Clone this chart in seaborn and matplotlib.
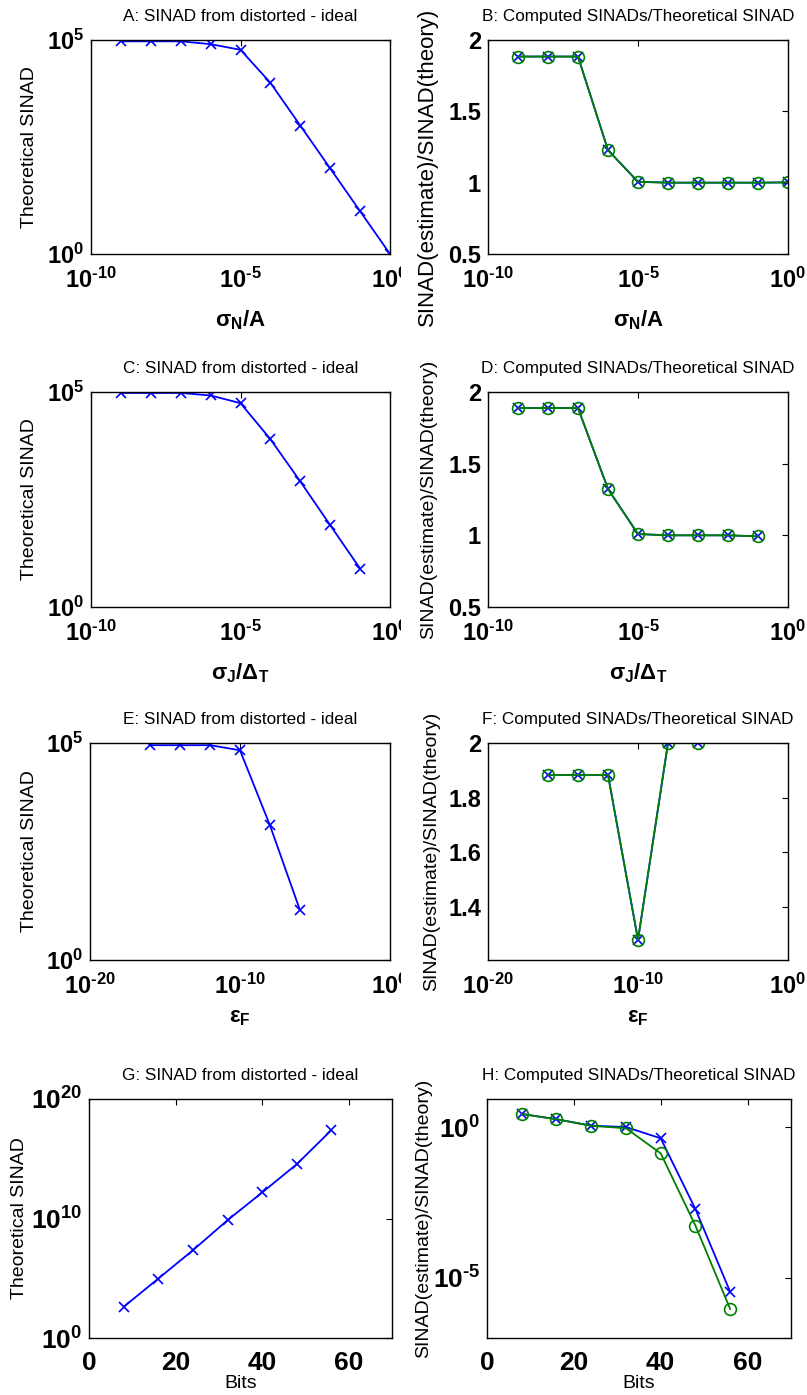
import numpy as np
import pandas as pd
import matplotlib
matplotlib.use("Agg")
import matplotlib.pyplot as plt
from matplotlib.patches import Rectangle
import seaborn as sns

# ---------------- data ----------------
# Panel A / B : noise
noise_x = [1e-9, 1e-8, 1e-7, 1e-6, 1e-5, 1e-4, 1e-3, 1e-2, 1e-1, 1e0]
noise_sinad = [9.3e4, 9.3e4, 9.3e4, 8.0e4, 5.9e4, 1.0e4, 1.0e3, 1.0e2, 1.0e1, 1.0e0]
noise_ratio_a = [1.884, 1.884, 1.884, 1.228, 1.006, 1.0, 1.0, 1.0, 1.0, 1.002]
noise_ratio_b = [1.884, 1.884, 1.884, 1.228, 1.006, 1.0, 1.0, 1.0, 1.0, 1.002]

# Panel C / D : jitter
jitter_x = [1e-9, 1e-8, 1e-7, 1e-6, 1e-5, 1e-4, 1e-3, 1e-2, 1e-1]
jitter_sinad = [9.5e4, 9.5e4, 9.5e4, 8.3e4, 5.5e4, 8.0e3, 8.3e2, 8.0e1, 7.8e0]
jitter_ratio_a = [1.888, 1.888, 1.888, 1.323, 1.009, 1.0, 1.0, 1.0, 0.993]
jitter_ratio_b = [1.888, 1.888, 1.888, 1.323, 1.009, 1.0, 1.0, 1.0, 0.993]

# Panel E / F : frequency error
freq_x = [1e-16, 1e-14, 1e-12, 1e-10, 1e-8, 1e-6]
freq_sinad = [8.9e4, 8.9e4, 8.9e4, 6.8e4, 1.26e3, 1.4e1]
freq_ratio_a = [1.883, 1.883, 1.883, 1.278, 2.0, 2.0]
freq_ratio_b = [1.883, 1.883, 1.883, 1.278, 2.0, 2.0]

# Panel G / H : bits
bits = [8, 16, 24, 32, 40, 48, 56]
bits_sinad = [4.0e2, 9.3e4, 2.2e7, 7.2e9, 1.5e12, 3.5e14, 2.5e17]
bits_ratio_a = [2.78, 1.85, 1.13, 1.02, 0.43, 1.9e-3, 3.4e-6]
bits_ratio_b = [2.75, 1.86, 1.12, 0.93, 0.136, 5.4e-4, 9.1e-7]

titles = ["A: SINAD from distorted - ideal", "B: Computed SINADs/Theoretical SINAD",
          "C: SINAD from distorted - ideal", "D: Computed SINADs/Theoretical SINAD",
          "E: SINAD from distorted - ideal", "F: Computed SINADs/Theoretical SINAD",
          "G: SINAD from distorted - ideal", "H: Computed SINADs/Theoretical SINAD"]
ylab_left = "Theoretical SINAD"
ylab_right = "SINAD(estimate)/SINAD(theory)"
xlabels = [r"$\mathbf{σ_N/A}$", r"$\mathbf{σ_J/Δ_T}$", r"$\mathbf{ε_F}$", "Bits"]

log_xticks_ab = [1e-10, 1e-5, 1e0]
log_xticks_ef = [1e-20, 1e-10, 1e0]
sinad_yticks = [1e0, 1e5]
ratio_yticks = [0.5, 1, 1.5, 2]
freq_ratio_yticks = [1.4, 1.6, 1.8, 2.0]
bits_xticks = [0, 20, 40, 60]
bits_sinad_yticks = [1e0, 1e10, 1e20]
bits_ratio_yticks = [1e-5, 1e0]

# ---------------- style ----------------
sns.set_theme(style="white")
plt.rcParams["font.family"] = ["Liberation Sans", "DejaVu Sans"]
plt.rcParams["mathtext.fontset"] = "custom"
plt.rcParams["mathtext.rm"] = "Liberation Sans"
plt.rcParams["mathtext.it"] = "Liberation Sans:italic"
plt.rcParams["mathtext.bf"] = "Liberation Sans:bold"

BLUE = "#0000ff"
GREEN = "#008000"

fig = plt.figure(figsize=(8.07, 13.95), dpi=100)
W, H = 807.0, 1395.0

def add_ax(x0, y0, x1, y1):
    return fig.add_axes([x0 / W, 1 - y1 / H, (x1 - x0) / W, (y1 - y0) / H])

def pow_label(v):
    e = int(round(np.log10(v)))
    s = str(e).replace("-", "\u2010")
    return r"$\mathbf{10^{%s}}$" % s

def num_label(v):
    return "%g" % v

def style(ax, tick_fs, xpad):
    for sp in ax.spines.values():
        sp.set_color("black")
        sp.set_linewidth(1.0)
        sp.set_visible(True)
    ax.tick_params(which="both", direction="in", top=True, right=True,
                   length=4, width=0.8, colors="black", labelsize=tick_fs)
    ax.tick_params(axis="x", pad=xpad)
    ax.tick_params(axis="y", pad=5)
    ax.minorticks_off()
    for lbl in ax.get_xticklabels() + ax.get_yticklabels():
        lbl.set_fontweight("bold")
    ax.grid(False)

def plot_x(ax, x, y):
    sns.lineplot(x=x, y=y, ax=ax, color=BLUE, marker="x", markersize=7,
                 markeredgecolor=BLUE, markeredgewidth=1.2, linewidth=1.3,
                 sort=False, estimator=None, errorbar=None)

def plot_o(ax, x, y):
    sns.lineplot(x=x, y=y, ax=ax, color=GREEN, marker="o", markersize=8.5,
                 markeredgecolor=GREEN, markerfacecolor="none", markeredgewidth=1.2,
                 linewidth=1.3, sort=False, estimator=None, errorbar=None)

rows = [(40, 254), (392, 607), (743, 960), (1099, 1338)]
left_x = (91, 390)
right_x = (488, 788)

# ---------- row 1 ----------
axA = add_ax(left_x[0], rows[0][0], left_x[1], rows[0][1])
plot_x(axA, noise_x, noise_sinad)
axA.set_xscale("log"); axA.set_yscale("log")
axA.set_xlim(1e-10, 1e0); axA.set_ylim(1e0, 1e5)
axA.set_xticks(log_xticks_ab, [pow_label(v) for v in log_xticks_ab])
axA.set_yticks(sinad_yticks, [pow_label(v) for v in sinad_yticks])

axB = add_ax(right_x[0], rows[0][0], right_x[1], rows[0][1])
plot_x(axB, noise_x, noise_ratio_a)
plot_o(axB, noise_x, noise_ratio_b)
axB.set_xscale("log")
axB.set_xlim(1e-10, 1e0); axB.set_ylim(0.5, 2)
axB.set_xticks(log_xticks_ab, [pow_label(v) for v in log_xticks_ab])
axB.set_yticks(ratio_yticks, [num_label(v) for v in ratio_yticks])

# ---------- row 2 ----------
axC = add_ax(left_x[0], rows[1][0], left_x[1], rows[1][1])
plot_x(axC, jitter_x, jitter_sinad)
axC.set_xscale("log"); axC.set_yscale("log")
axC.set_xlim(1e-10, 1e0); axC.set_ylim(1e0, 1e5)
axC.set_xticks(log_xticks_ab, [pow_label(v) for v in log_xticks_ab])
axC.set_yticks(sinad_yticks, [pow_label(v) for v in sinad_yticks])

axD = add_ax(right_x[0], rows[1][0], right_x[1], rows[1][1])
plot_x(axD, jitter_x, jitter_ratio_a)
plot_o(axD, jitter_x, jitter_ratio_b)
axD.set_xscale("log")
axD.set_xlim(1e-10, 1e0); axD.set_ylim(0.5, 2)
axD.set_xticks(log_xticks_ab, [pow_label(v) for v in log_xticks_ab])
axD.set_yticks(ratio_yticks, [num_label(v) for v in ratio_yticks])

# ---------- row 3 ----------
axE = add_ax(90, rows[2][0], left_x[1], rows[2][1])
plot_x(axE, freq_x, freq_sinad)
axE.set_xscale("log"); axE.set_yscale("log")
axE.set_xlim(1e-20, 1e0); axE.set_ylim(1e0, 1e5)
axE.set_xticks(log_xticks_ef, [pow_label(v) for v in log_xticks_ef])
axE.set_yticks(sinad_yticks, [pow_label(v) for v in sinad_yticks])

axF = add_ax(right_x[0], rows[2][0], right_x[1], rows[2][1])
plot_x(axF, freq_x, freq_ratio_a)
plot_o(axF, freq_x, freq_ratio_b)
axF.set_xscale("log")
axF.set_xlim(1e-20, 1e0); axF.set_ylim(1.204, 2.0)
axF.set_xticks(log_xticks_ef, [pow_label(v) for v in log_xticks_ef])
axF.set_yticks(freq_ratio_yticks, [num_label(v) for v in freq_ratio_yticks])

# ---------- row 4 ----------
axG = add_ax(89, rows[3][0], 392, rows[3][1])
plot_x(axG, bits, bits_sinad)
axG.set_yscale("log")
axG.set_xlim(0, 70); axG.set_ylim(1e0, 1e20)
axG.set_xticks(bits_xticks, [num_label(v) for v in bits_xticks])
axG.set_yticks(bits_sinad_yticks, [pow_label(v) for v in bits_sinad_yticks])

axH = add_ax(487, rows[3][0], 791, rows[3][1])
plot_x(axH, bits, bits_ratio_a)
plot_o(axH, bits, bits_ratio_b)
axH.set_yscale("log")
axH.set_xlim(0, 70); axH.set_ylim(1e-7, 10 ** 0.94)
axH.set_xticks(bits_xticks, [num_label(v) for v in bits_xticks])
axH.set_yticks(bits_ratio_yticks, [pow_label(v) for v in bits_ratio_yticks])

axes = [axA, axB, axC, axD, axE, axF, axG, axH]
for i, ax in enumerate(axes):
    if i < 6:
        style(ax, 17, 10)
    else:
        style(ax, 19, 9)
    ax.set_title(titles[i], fontsize=12.3, pad=13.5, color="black")
    if ax.get_legend() is not None:
        ax.get_legend().remove()

# the left-column "10^0" labels are cut at the panel edge in the original
clip_rect = Rectangle((0, 0), 401 / W, 1, transform=fig.transFigure)
for ax in [axA, axC, axE]:
    ax.xaxis.get_major_ticks()[-1].label1.set_clip_path(clip_rect)

# y labels (x coordinate = right edge of rotated text)
ylab_cfg = {0: (-0.177, 0.5, 14), 1: (-0.167, 0.407, 16),
            2: (-0.177, 0.5, 14), 3: (-0.17, 0.5, 14),
            4: (-0.173, 0.5, 14), 5: (-0.16, 0.5, 14),
            6: (-0.2, 0.5, 14), 7: (-0.18, 0.5, 14)}
for i, ax in enumerate(axes):
    xx, yy, fs = ylab_cfg[i]
    ax.set_ylabel(ylab_left if i % 2 == 0 else ylab_right, fontsize=fs, color="black")
    ax.yaxis.set_label_coords(xx, yy)

# x labels
for i, ax in enumerate(axes):
    row = i // 2
    if row < 3:
        ax.set_xlabel(xlabels[row], fontsize=16, color="black")
        ax.xaxis.set_label_coords(0.5, -0.255 if row < 2 else -0.215)
    else:
        ax.set_xlabel(xlabels[row], fontsize=14, color="black")
        ax.xaxis.set_label_coords(0.5, -0.155)

fig.savefig("out.png", dpi=100, facecolor="white")
